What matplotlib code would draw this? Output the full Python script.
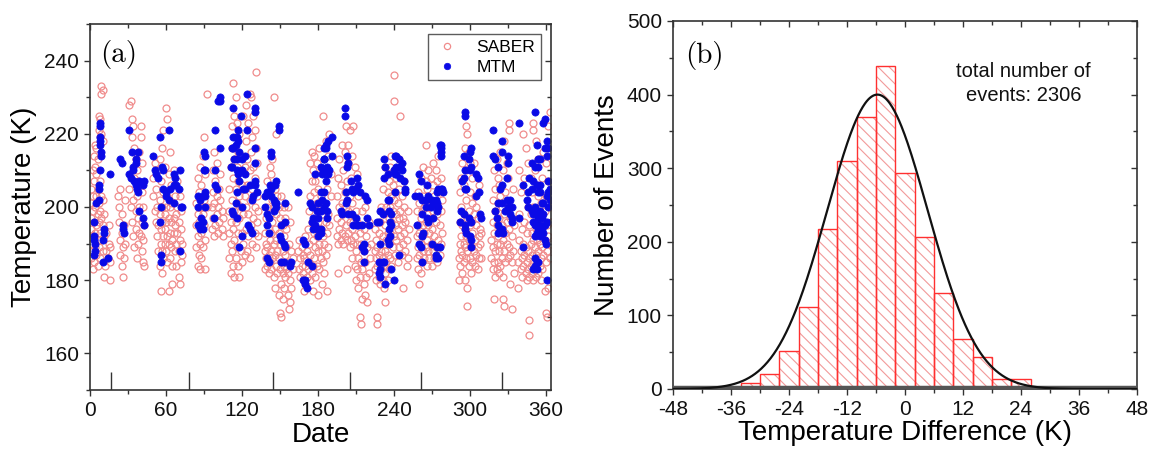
import numpy as np
import matplotlib
matplotlib.use("Agg")
import matplotlib.pyplot as plt
from matplotlib.ticker import MultipleLocator

plt.rcParams['font.family'] = ['Liberation Sans', 'DejaVu Sans']
plt.rcParams['hatch.linewidth'] = 0.8
plt.rcParams['axes.unicode_minus'] = False

# ---------------- data: panel (a) ----------------
saber_pts = [
    (1,186),(1,190),(1,194),(1,197),(1,201),(1,205),(2,183),(2,188),(2,192),(2,199),(2,203),(2,210),(3,185),(3,196),(3,207),(3,214),
    (4,189),(4,193),(4,200),(4,211),(4,217),(5,187),(5,195),(5,203),(5,209),(5,216),(6,184),(6,191),(6,198),(6,205),(6,213),(7,189),
    (7,196),(7,201),(7,221),(7,225),(8,186),(8,193),(8,199),(8,207),(8,219),(8,224),(9,191),(9,197),(9,203),(9,220),(9,231),(9,233),
    (10,188),(10,195),(10,202),(10,218),(10,232),(11,181),(11,192),(11,198),
    (12,184),(13,188),(13,193),(14,186),(15,190),(15,195),(16,185),(16,180),(16,189),
    (22,203),(23,196),(23,200),(24,191),(24,187),(24,205),(25,184),(25,193),(25,198),(26,181),(26,189),(27,186),(27,195),(28,202),(28,190),
    (31,228),(32,229),(33,224),(33,219),(34,222),(35,216),(36,213),(37,210),(31,205),(32,200),(33,196),(34,192),(35,189),(36,194),(36,199),
    (37,203),(38,190),(38,197),(38,207),(39,193),(39,200),(39,215),(40,219),(40,222),(41,188),(41,196),(41,204),(42,191),(42,185),(42,200),
    (43,195),(43,184),(35,208),(34,202),(37,186),(40,192),(41,212),
    (50,208),(50,203),(51,199),(51,212),(52,196),(52,205),(53,200),(53,192),(54,195),(54,188),(54,210),(55,184),(55,198),(55,202),(55,213),
    (56,177),(56,190),(56,194),(56,207),(57,182),(57,188),(57,196),(57,200),(57,216),(58,192),(58,186),(58,204),(58,221),(59,198),(59,190),
    (59,194),(59,211),(60,196),(60,200),(60,188),(60,227),(61,185),(61,192),(61,203),(61,224),(62,177),(62,190),(62,197),(62,209),(63,186),
    (63,193),(63,200),(63,215),(64,189),(64,196),(64,206),(65,179),(65,191),(65,201),(65,184),(66,193),(66,197),(66,210),(67,188),(67,195),
    (67,203),(68,190),(68,184),(68,198),(69,193),(69,200),(69,207),(70,181),(70,188),(70,196),(71,179),(71,191),(71,203),(72,185),(72,194),
    (72,199),(73,187),(73,190),
    (84,189),(84,195),(84,201),(85,184),(85,192),(85,198),(85,208),(86,187),(86,196),(86,204),(87,183),(87,190),(87,200),(87,211),(88,193),
    (88,206),(88,186),(89,198),(89,189),(89,214),(90,195),(90,202),(90,219),(91,183),(91,209),(92,231),(92,200),(91,191),
    (96,194),(96,200),(97,197),(97,204),(97,210),(98,192),(98,201),(98,215),(99,195),(99,207),(100,198),(100,203),(100,212),(101,193),
    (101,200),(102,196),(102,205),(103,202),(103,209),(104,194),(104,199),(105,197),(105,192),
    (110,186),(110,193),(110,199),(110,205),(111,182),(111,190),(111,196),(111,211),(112,188),(112,202),(112,216),(112,222),(113,184),
    (113,194),(113,208),(113,234),(114,181),(114,191),(114,199),(114,213),(114,225),(115,186),(115,196),(115,205),(115,219),(115,230),
    (116,189),(116,201),(116,211),(116,223),(117,184),(117,193),(117,207),(117,215),(118,181),(118,197),(118,203),(118,220),(119,188),
    (119,200),(119,210),(120,185),(120,193),(120,206),(120,214),(121,190),(121,198),(121,225),(122,187),(122,203),(122,211),(123,194),
    (123,200),(123,218),(123,228),(124,188),(124,206),(124,213),(125,192),(125,198),(125,223),(126,186),(126,202),(126,210),(126,231),
    (127,195),(127,215),(127,230),(128,190),(128,205),(128,219),(129,197),(129,211),(129,225),(130,193),(130,200),(130,208),(130,221),
    (131,189),(131,216),(131,237),(132,196),(132,203),(132,212),(133,192),(133,199),
    (138,183),(138,188),(138,193),(139,186),(139,190),(139,197),(140,184),(140,189),(140,200),(140,207),(141,182),(141,187),(141,194),
    (141,204),(142,185),(142,191),(142,198),(142,211),(143,183),(143,188),(143,193),(143,209),(144,186),(144,196),(144,202),(144,213),
    (145,181),(145,190),(145,200),(145,230),(146,178),(146,187),(146,194),(146,205),(147,184),(147,191),(147,198),(147,220),(148,182),
    (148,188),(148,203),(149,176),(149,186),(149,193),(149,200),(150,171),(150,183),(150,190),(150,197),(151,170),(151,179),(151,185),
    (151,203),(152,175),(152,182),(152,188),(152,195),(153,178),(153,184),(153,192),(153,200),(154,181),(154,187),(154,197),(155,183),
    (155,189),(155,194),(156,176),(156,182),(156,200),(157,172),(157,185),(157,190),(158,174),(158,180),(158,196),(159,178),(159,188),
    (160,183),(160,186),
    (164,188),(165,183),(165,191),(166,186),(166,181),(167,184),(167,189),(168,182),(168,187),(169,177),(169,186),(170,179),(170,184),
    (170,192),(171,181),(171,188),(172,183),(172,194),(173,185),(173,190),(173,199),(174,180),(174,187),(174,203),(174,212),(175,182),
    (175,196),(175,207),(175,215),(176,177),(176,184),(176,191),(176,200),(176,210),(177,186),(177,193),(177,204),(177,214),(178,181),
    (178,189),(178,197),(178,207),(179,184),(179,192),(179,201),(179,212),(180,176),(180,188),(180,196),(180,205),(181,183),(181,190),
    (181,199),(181,216),(182,186),(182,194),(182,203),(183,179),(183,188),(183,198),(183,210),(184,185),(184,192),(184,225),(185,182),
    (185,190),(185,201),(186,187),(186,196),(186,218),(187,177),(187,193),(187,205),(188,189),(188,198),(188,214),(189,195),(189,220),
    (190,203),(190,209),
    (195,192),(195,197),(195,203),(196,190),(196,182),(196,208),(197,194),(197,200),(197,213),(198,191),(198,196),(198,206),(199,193),
    (199,201),(199,217),(200,190),(200,198),(200,210),(201,192),(201,204),(201,215),(202,195),(202,200),(202,222),(203,191),(203,207),
    (203,183),(204,193),(204,199),(204,212),(204,217),(205,189),(205,196),(205,203),(205,221),(206,191),(206,198),(206,208),(207,186),
    (207,194),(207,201),(207,214),(208,190),(208,196),(208,222),(209,184),(209,192),(209,205),(209,211),(210,180),(210,188),(210,199),
    (211,183),(211,190),(211,196),(211,209),(212,178),(212,186),(212,203),(213,181),(213,193),(213,170),(214,168),(214,185),(214,190),
    (215,175),(215,183),(215,199),(216,179),(216,188),(216,194),(217,176),(217,185),(217,200),(218,181),(218,192),(219,174),(219,189),
    (220,182),(220,196),(221,186),(222,190),
    (225,183),(225,188),(225,194),(226,180),(226,186),(226,191),(227,168),(227,170),(227,184),(227,189),(228,181),(228,187),(228,193),
    (229,179),(229,185),(229,196),(230,183),(230,188),(230,200),(231,180),(231,186),(231,192),(231,205),(232,178),(232,184),(232,190),
    (232,198),(233,174),(233,182),(233,188),(233,195),(233,211),(234,185),(234,191),(234,200),(235,180),(235,187),(235,193),(235,204),
    (236,183),(236,190),(236,197),(236,207),(237,186),(237,193),(237,200),(237,211),(238,184),(238,196),(238,203),(238,214),(239,189),
    (239,199),(239,206),(240,229),(240,236),(240,192),(240,202),(240,210),(241,187),(241,195),(241,204),(242,191),(242,198),(242,208),
    (243,185),(243,194),(243,201),(244,189),(244,197),(244,205),(244,213),(245,192),(245,199),(245,225),(246,187),(246,195),(246,203),
    (247,190),(247,197),(247,178),(248,193),(248,200),(248,207),(249,188),(249,196),(250,184),(250,191),(251,199),(251,186),(252,194),
    (258,186),(258,192),(258,199),(259,183),(259,189),(259,195),(259,204),(260,179),(260,187),(260,193),(260,201),(261,182),(261,190),
    (261,197),(261,208),(262,185),(262,192),(262,199),(263,188),(263,195),(263,203),(263,211),(264,186),(264,193),(264,200),(265,189),
    (265,196),(265,207),(265,217),(266,184),(266,191),(266,198),(266,205),(267,188),(267,195),(267,202),(267,210),(268,186),(268,193),
    (268,200),(269,190),(269,197),(269,208),(270,184),(270,194),(270,201),(271,188),(271,199),(271,206),(271,212),(272,186),(272,192),
    (272,203),(273,189),(273,196),(273,210),(274,185),(274,198),(274,207),(275,191),(275,200),(275,214),(276,187),(276,195),(276,204),
    (277,190),(277,199),(277,208),(278,193),(278,202),
    (291,180),(291,186),(292,184),(292,190),(292,196),(292,204),(293,188),(293,192),(293,200),(293,208),(294,182),(294,187),(294,195),
    (294,212),(295,185),(295,190),(295,198),(295,206),(296,180),(296,189),(296,194),(296,216),(297,186),(297,192),(297,202),(297,210),
    (297,222),(298,173),(298,178),(298,188),(298,197),(298,220),(299,184),(299,191),(299,199),(299,215),(300,186),(300,195),(300,204),
    (300,212),(301,182),(301,189),(301,196),(302,185),(302,193),(302,201),(302,208),(303,188),(303,198),(303,212),(304,184),(304,191),
    (304,203),(305,187),(305,195),(305,200),(306,183),(306,189),(306,197),(307,186),(307,192),(307,206),(308,190),(308,194),(309,186),
    (309,193),
    (317,186),(317,191),(318,183),(318,189),(318,196),(318,202),(319,175),(319,185),(319,193),(319,210),(320,181),(320,188),(320,199),
    (320,205),(321,183),(321,190),(321,195),(321,213),(322,185),(322,192),(322,201),(322,208),(323,182),(323,188),(323,197),(323,206),
    (324,184),(324,190),(324,203),(324,215),(325,186),(325,195),(325,200),(326,175),(326,181),(326,191),(326,210),(327,173),(327,188),
    (327,198),(327,218),(328,185),(328,193),(328,204),(329,190),(329,196),(329,212),(330,186),(330,200),(330,208),(331,189),(331,194),
    (331,221),(331,223),(332,179),(332,187),(332,197),(333,172),(333,185),(333,192),(334,188),(334,205),(335,182),(335,195),
    (338,178),(338,185),(339,191),(339,198),(339,210),(340,183),(340,188),(340,204),(341,181),(341,186),(341,194),(342,184),(342,190),
    (342,220),(343,187),(343,196),(343,208),(344,182),(344,189),(344,216),(345,180),(345,185),(345,193),(346,183),(346,188),(346,200),
    (346,212),(347,165),(347,169),(347,181),(347,186),(347,195),(348,184),(348,190),(348,198),(348,208),(349,182),(349,187),(349,193),
    (349,204),(350,180),(350,185),(350,191),(350,200),(350,221),(350,223),(351,183),(351,189),(351,196),(351,210),(352,181),(352,187),
    (352,194),(352,218),(353,185),(353,191),(353,199),(353,206),(354,182),(354,188),(354,203),(354,213),(355,184),(355,190),(355,197),
    (356,180),(356,186),(356,193),(356,201),(357,183),(357,189),(357,208),(358,187),(358,195),(358,215),(359,177),(359,191),(359,199),
    (360,171),(360,185),(360,203),(360,212),(361,170),(361,188),(361,195),(362,178),(362,192),(362,207),(362,222),(363,186),(363,200),
    (363,226),(364,190),(364,196),
]

mtm_pts = [
    (8,223),(8,222),(8,219),(8,218),(8,217),(9,215),(9,214),(8,210),(16,209),(7,206),(7,205),(7,202),(5,201),(3,196),(3,192),(3,191),
    (4,190),(4,188),(3,187),(11,194),(11,193),(10,191),(10,185),(14,186),(24,213),(25,212),(26,194),(27,193),(26,195),(31,221),(33,215),
    (38,215),(36,213),(36,212),(34,211),(34,210),(31,209),(32,208),(35,207),(36,206),(39,207),(42,206),(43,207),(37,205),(38,204),(39,199),
    (42,197),(43,195),(50,214),(51,210),(52,209),(54,208),(55,219),(62,221),(57,211),(58,210),(58,205),(60,204),(63,205),(66,206),(60,203),
    (62,202),(66,209),(67,208),(71,210),(68,206),(70,205),(66,201),(72,200),(73,200),(56,200),(55,196),(56,187),(56,185),(71,188),(85,203),
    (87,202),(85,200),(88,197),(89,196),(85,195),(87,194),(89,194),(90,215),(90,210),(91,204),(89,203),
    (103,230),(103,229),(101,229),(113,227),(124,231),(130,227),(130,226),(119,225),(99,221),(117,221),(124,221),(113,219),(116,219),
    (117,218),(115,217),(112,216),(113,216),(118,215),(103,216),(130,216),(91,214),(122,214),(120,213),(114,213),(116,213),(111,211),
    (112,211),(116,210),(117,209),(120,210),(130,212),(99,210),(91,210),(122,209),(118,207),(126,206),(122,205),(121,205),(130,207),
    (130,206),(99,206),(100,205),(116,204),(129,203),(128,202),(132,204),(115,201),(120,200),(112,199),(113,198),(116,197),(91,203),
    (91,200),(98,197),(125,195),(126,194),(128,193),(120,192),(118,189),(143,215),(143,214),(149,222),(149,221),(147,207),(146,206),
    (143,205),(142,206),(140,204),(138,203),(143,203),(145,202),(146,201),(147,201),(147,200),(145,199),(154,201),(138,200),(140,198),
    (141,197),(140,195),(141,193),(151,195),(154,196),(150,192),(151,191),(153,190),(154,189),(140,186),(141,185),(153,185),(151,185),
    (159,185),(158,184),(164,204),(168,191),(170,190),(168,180),(170,180),(170,179),(171,178),(172,185),(175,184),(174,201),(175,200),
    (176,197),(175,196),(178,195),(176,194),(182,211),(184,210),(186,209),(183,209),(186,216),(185,213),(178,209),(182,204),(183,202),
    (180,201),(182,199),(179,199),(180,197),(182,194),(179,194),(182,193),(180,192),(188,218),
    (186,217),(185,216),(191,219),(185,213),(187,211),(189,210),(188,209),(186,207),(191,214),(185,204),(186,201),(185,200),(187,199),
    (187,197),(201,227),(201,225),(203,214),(204,212),(203,211),(206,207),(210,205),(207,205),(211,208),(212,206),(213,204),(208,204),
    (202,204),(203,202),(202,201),(204,198),(207,198),(210,197),(211,195),(212,195),(208,195),(215,195),(198,199),(199,198),(217,203),
    (219,202),(219,197),(220,195),(216,190),(215,189),(216,188),(216,185),(232,213),(233,211),(235,209),(232,208),(229,199),(231,198),
    (228,196),(236,199),(238,198),(235,202),(236,202),(237,196),(238,195),(236,194),(237,192),(235,191),(236,190),(229,190),(231,185),
    (228,185),(232,185),(229,183),(228,182),(229,181),(233,179),(227,196),(238,183),(240,180),(244,187),(241,214),(244,213),(242,211),
    (245,211),(240,210),(246,212),(242,209),(241,209),(245,208),(248,207),(246,210),(242,214),(249,205),(249,204),(241,204),(260,209),
    (261,207),(266,206),(257,203),(260,203),(262,202),(265,202),(267,203),(270,202),(273,202),(271,201),(274,201),(269,200),(265,200),
    (262,198),(266,197),(267,196),(271,197),(275,205),(277,205),(274,204),(258,195),(262,192),(263,193),(260,190),(261,189),(270,190),
    (274,189),(273,187),(275,186),(273,186),(262,185),(277,217),(277,216),(277,215),(275,200),(274,199),
    (276,217),(277,214),(278,205),(279,204),(276,189),(296,226),(296,225),(301,216),(300,215),(295,214),(299,213),(301,211),(300,210),
    (296,210),(305,209),(306,208),(295,208),(294,207),(296,205),(297,205),(307,204),(305,203),(293,199),(295,198),(292,196),(296,195),
    (299,197),(301,196),(296,194),(297,193),(300,192),(301,191),(301,189),(308,198),(309,197),(318,221),(325,218),(325,215),(318,214),
    (320,213),(322,211),(330,214),(330,212),(329,208),(325,206),(324,205),(322,201),(325,201),(329,202),(332,202),(330,200),(333,200),
    (328,199),(332,198),(320,199),(321,197),(322,195),(324,194),(326,193),(322,193),(325,194),(333,197),(333,196),(339,223),(342,206),
    (339,197),(342,189),(351,226),(353,217),(349,212),(351,211),(354,213),(355,213),(354,211),(359,224),(358,223),(361,218),(362,216),
    (361,214),(359,216),(347,208),(350,207),(349,205),(346,204),(345,202),(353,206),(355,206),(354,204),(355,204),(357,201),(358,201),
    (361,203),(362,204),(363,205),(363,202),(362,200),(346,200),(349,199),(351,200),(350,198),(353,198),(354,197),(355,199),(357,197),
    (358,198),(350,196),(353,195),(355,195),(351,195),(354,194),(357,194),(353,193),(355,192),(351,192),(358,193),(359,195),(361,196),
    (359,191),(360,190),(351,186),(353,185),(354,185),(351,184),(350,183),(353,183),(361,180),(362,207),
]

# short vertical markers along the bottom of panel (a)
marker_days = [16.5, 78.5, 144.5, 205, 261.5, 325]

# ---------------- data: panel (b) ----------------
bin_left = [-42, -38, -34, -30, -26, -22, -18, -14, -10, -6, -2, 2, 6, 10, 14, 18, 22, 26, 38, 42]
bin_count = [1, 2, 8, 21, 52, 111, 218, 310, 370, 439, 294, 206, 131, 68, 44, 13, 14, 2, 1, 1]
bin_width = 4
fit_amp, fit_center, fit_sigma = 400, -5.7, 10.4
total_events = 2306

# ---------------- figure ----------------
fig = plt.figure(figsize=(11.56, 4.55), dpi=100)
W, H = 1156, 455
ax1 = fig.add_axes([90 / W, 1 - 390 / H, (551 - 90) / W, (390 - 24) / H])
ax2 = fig.add_axes([673 / W, 1 - 389 / H, (1137 - 673) / W, (389 - 21) / H])

spine_c = '#333333'
tick_fs = 15
label_fs = 20


def style_axes(ax, xmaj, xmin, ymaj, ymin):
    for s in ax.spines.values():
        s.set_color(spine_c)
        s.set_linewidth(1.2)
    ax.xaxis.set_major_locator(MultipleLocator(xmaj))
    ax.xaxis.set_minor_locator(MultipleLocator(xmin))
    ax.yaxis.set_major_locator(MultipleLocator(ymaj))
    ax.yaxis.set_minor_locator(MultipleLocator(ymin))
    ax.tick_params(which='both', colors=spine_c, labelcolor='#111111', labelsize=tick_fs, width=1.0,
                   direction='out', top=False, right=False)
    ax.tick_params(which='major', length=4.5)
    ax.tick_params(which='minor', length=3)
    # inward mirror ticks on top and right
    sx = ax.secondary_xaxis('top')
    sy = ax.secondary_yaxis('right')
    for sec, axis in ((sx, sx.xaxis), (sy, sy.yaxis)):
        axis.set_major_locator(MultipleLocator(xmaj if sec is sx else ymaj))
        axis.set_minor_locator(MultipleLocator(xmin if sec is sx else ymin))
        sec.tick_params(which='both', direction='in', colors=spine_c, width=1.0,
                        labeltop=False, labelright=False, labelbottom=False, labelleft=False)
        sec.tick_params(which='major', length=4.5)
        sec.tick_params(which='minor', length=3)
        for s in sec.spines.values():
            s.set_visible(False)


# ----- panel (a)
sd = [p[0] for p in saber_pts]
st = [p[1] for p in saber_pts]
md = [p[0] for p in mtm_pts]
mt = [p[1] for p in mtm_pts]

ax1.plot(sd, st, ls='none', marker='o', ms=5.0, mfc='none', mec='#f08c8c', mew=0.9, label='SABER')
ax1.plot(md, mt, ls='none', marker='o', ms=5.2, mfc='#0a0ae6', mec='#0a0ae6', mew=0.5, label='MTM')
ax1.vlines(marker_days, 150, 155, color=spine_c, lw=1.0)

ax1.set_xlim(0, 364)
ax1.set_ylim(150, 250)
style_axes(ax1, 60, 30, 20, 10)
ax1.set_yticks([160, 180, 200, 220, 240])
ax1.set_xlabel('Date', fontsize=label_fs, labelpad=1)
ax1.set_ylabel('Temperature (K)', fontsize=label_fs, labelpad=5)
ax1.text(0.022, 0.955, '(a)', transform=ax1.transAxes, fontsize=21, family='cmr10', va='top', ha='left')
leg = ax1.legend(loc='upper right', fontsize=12.5, frameon=True, fancybox=False, edgecolor='#333333',
                 borderaxespad=0.6, handletextpad=0.9, borderpad=0.3, labelspacing=0.3, markerscale=0.9,
                 handlelength=1.6)
leg.get_frame().set_linewidth(1.0)

# ----- panel (b)
ax2.bar(bin_left, bin_count, width=bin_width, align='edge', facecolor='white', edgecolor='#f29a9a',
        hatch='\\\\\\', lw=0, zorder=2)
ax2.bar(bin_left, bin_count, width=bin_width, align='edge', fill=False, edgecolor='#ff3030', lw=1.0, zorder=3)
ax2.axhline(2.5, color='#555555', lw=2.5, zorder=4)
xg = np.linspace(-48, 48, 600)
ax2.plot(xg, fit_amp * np.exp(-0.5 * ((xg - fit_center) / fit_sigma) ** 2), color='#111111', lw=1.6, zorder=5)

ax2.set_xlim(-48, 48)
ax2.set_ylim(0, 500)
style_axes(ax2, 12, 6, 100, 50)
ax2.set_xlabel('Temperature Difference (K)', fontsize=label_fs, labelpad=1)
ax2.set_ylabel('Number of Events', fontsize=label_fs, labelpad=5)
ax2.text(0.026, 0.945, '(b)', transform=ax2.transAxes, fontsize=21, family='cmr10', va='top', ha='left')
ax2.text(0.755, 0.83, 'total number of\nevents: %d' % total_events, transform=ax2.transAxes, fontsize=14.5,
         ha='center', va='center', linespacing=1.35, color='#111111')

fig.savefig('out.png', dpi=100)
